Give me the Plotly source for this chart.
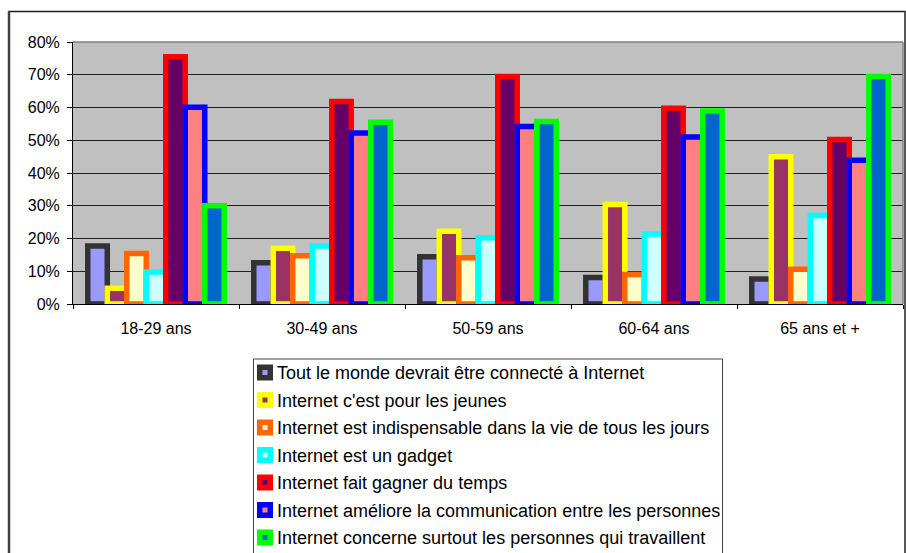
import plotly.graph_objects as go

# Survey answers by age group (share of respondents, in %)
age_groups = ["18-29 ans", "30-49 ans", "50-59 ans", "60-64 ans", "65 ans et +"]

statements = [
    "Tout le monde devrait être connecté à Internet",
    "Internet c'est pour les jeunes",
    "Internet est indispensable dans la vie de tous les jours",
    "Internet est un gadget",
    "Internet fait gagner du temps",
    "Internet améliore la communication entre les personnes",
    "Internet concerne surtout les personnes qui travaillent",
]

connecte = [17.7, 12.6, 14.4, 8.1, 7.6]
jeunes = [4.8, 17.0, 22.2, 30.4, 45.0]
indispensable = [15.4, 14.7, 14.1, 9.0, 10.6]
gadget = [9.8, 17.7, 20.2, 21.4, 27.0]
gagner_temps = [75.5, 61.8, 69.5, 59.8, 50.2]
communication = [60.1, 52.2, 54.2, 51.0, 43.9]
travaillent = [30.0, 55.5, 55.7, 58.9, 69.5]

series_values = [connecte, jeunes, indispensable, gadget,
                 gagner_temps, communication, travaillent]

fill_colors = ["#9999FF", "#993366", "#FFFFCC", "#CCFFFF",
               "#660066", "#FF8080", "#0066CC"]
edge_colors = ["#333333", "#FFFF00", "#FF6600", "#00FFFF",
               "#FF0000", "#0000FF", "#00FF00"]

FONT = "Liberation Sans, Arial, sans-serif"
W, H = 906, 553
PLOT_L, PLOT_R, PLOT_T, PLOT_B = 73, 903, 42, 304


def px_x(x):
    return (x - PLOT_L) / (PLOT_R - PLOT_L)


def px_y(y):
    return (PLOT_B - y) / (PLOT_B - PLOT_T)


fig = go.Figure()
for name, vals, fc, ec in zip(statements, series_values, fill_colors, edge_colors):
    fig.add_trace(go.Bar(
        x=age_groups,
        y=[v / 100 for v in vals],
        name=name,
        marker=dict(color=fc, line=dict(color=ec, width=5.5)),
        showlegend=False,
    ))

shapes = []
annotations = []

# outer frame of the chart
shapes.append(dict(type="rect", xref="paper", yref="paper",
                   x0=px_x(9), x1=px_x(905), y0=px_y(560), y1=px_y(11.5),
                   line=dict(color="#202020", width=1.5), layer="above"))
shapes.append(dict(type="line", xref="paper", yref="paper",
                   x0=px_x(9), x1=px_x(9), y0=px_y(560), y1=px_y(11.5),
                   line=dict(color="#404040", width=2.5), layer="above"))

# grey border of the plotting area (top and right)
shapes.append(dict(type="line", xref="paper", yref="paper",
                   x0=0, x1=1, y0=1, y1=1,
                   line=dict(color="#808080", width=1.5), layer="above"))
shapes.append(dict(type="line", xref="paper", yref="paper",
                   x0=1, x1=1, y0=0, y1=1,
                   line=dict(color="#808080", width=1.5), layer="above"))

# legend box
LEG_L, LEG_R, LEG_T = 253.5, 722.5, 359
shapes.append(dict(type="rect", xref="paper", yref="paper",
                   x0=px_x(LEG_L), x1=px_x(LEG_R), y0=px_y(570), y1=px_y(LEG_T),
                   line=dict(color="#404040", width=1), fillcolor="white",
                   layer="above"))

row0, row_step = 372.5, 27.5
for i, (name, fc, ec) in enumerate(zip(statements, fill_colors, edge_colors)):
    cy = row0 + i * row_step
    shapes.append(dict(type="rect", xref="paper", yref="paper",
                       x0=px_x(257), x1=px_x(273), y0=px_y(cy + 8), y1=px_y(cy - 8),
                       fillcolor=ec, line=dict(width=0), layer="above"))
    shapes.append(dict(type="rect", xref="paper", yref="paper",
                       x0=px_x(262.5), x1=px_x(267.5), y0=px_y(cy + 2.5), y1=px_y(cy - 2.5),
                       fillcolor=fc, line=dict(width=0), layer="above"))
    annotations.append(dict(xref="paper", yref="paper",
                            x=px_x(274.5), y=px_y(cy + 0.5), xanchor="left", yanchor="middle",
                            text=name, showarrow=False,
                            font=dict(family=FONT, size=18, color="black")))

fig.update_layout(
    width=W, height=H,
    margin=dict(l=PLOT_L, r=W - PLOT_R, t=PLOT_T, b=H - PLOT_B, pad=0),
    paper_bgcolor="white",
    plot_bgcolor="#C0C0C0",
    barmode="group",
    bargap=0.178,
    bargroupgap=0,
    font=dict(family=FONT, size=16, color="black"),
    shapes=shapes,
    annotations=annotations,
)

fig.update_yaxes(
    range=[0, 0.8], dtick=0.1, tickformat=".0%",
    showgrid=True, gridcolor="#202020", gridwidth=1,
    showline=True, linecolor="black", linewidth=1,
    ticks="outside", ticklen=5, tickcolor="black", tickwidth=1,
    ticklabelstandoff=4,
    zeroline=False,
    tickfont=dict(family=FONT, size=16, color="black"),
)
fig.update_xaxes(
    type="category", tickson="boundaries",
    showgrid=False,
    showline=True, linecolor="black", linewidth=1,
    ticks="outside", ticklen=4, tickcolor="black", tickwidth=1,
    ticklabelstandoff=10,
    layer="below traces",
    tickfont=dict(family=FONT, size=16, color="black"),
)

fig.write_html("out.html")
